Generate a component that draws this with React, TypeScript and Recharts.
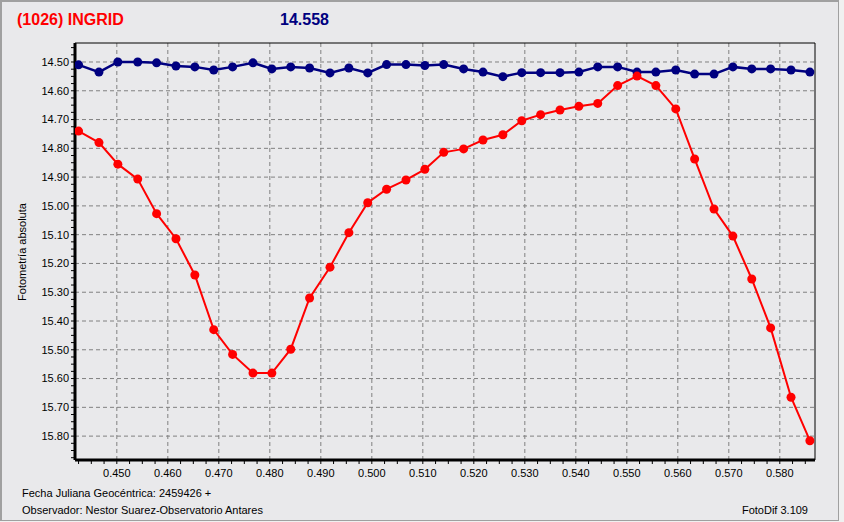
import React from 'react';
import { LineChart, Line, XAxis, YAxis, CartesianGrid, ReferenceArea } from 'recharts';

// Julian date fraction (2459426 +)
const jdFrac = [
    0.4425, 0.4465, 0.4502, 0.4541, 0.4578, 0.4616, 0.4653, 0.4690, 0.4727, 0.4767,
    0.4804, 0.4841, 0.4878, 0.4918, 0.4955, 0.4992, 0.5029, 0.5067, 0.5104, 0.5141,
    0.5180, 0.5218, 0.5257, 0.5294, 0.5331, 0.5369, 0.5406, 0.5443, 0.5482, 0.5520,
    0.5557, 0.5596, 0.5633, 0.5671, 0.5708, 0.5745, 0.5782, 0.5822, 0.5859,
];

// asteroid (red)
const ingridMag = [
    14.740, 14.780, 14.855, 14.907, 15.027, 15.114, 15.240, 15.430, 15.516, 15.581,
    15.581, 15.498, 15.320, 15.213, 15.093, 14.989, 14.942, 14.910, 14.873, 14.814,
    14.802, 14.771, 14.753, 14.704, 14.683, 14.667, 14.654, 14.644, 14.582, 14.549,
    14.582, 14.663, 14.837, 15.011, 15.105, 15.254, 15.424, 15.665, 15.816,
];

// comparison star (blue)
const compMag = [
    14.510, 14.535, 14.500, 14.500, 14.503, 14.514, 14.517, 14.528, 14.517, 14.503,
    14.524, 14.517, 14.521, 14.538, 14.521, 14.538, 14.509, 14.509, 14.512, 14.509,
    14.524, 14.535, 14.551, 14.537, 14.537, 14.537, 14.535, 14.517, 14.517, 14.535,
    14.535, 14.528, 14.542, 14.542, 14.517, 14.524, 14.524, 14.528, 14.535,
];

const xMajor = [0.45, 0.46, 0.47, 0.48, 0.49, 0.5, 0.51, 0.52, 0.53, 0.54, 0.55, 0.56, 0.57, 0.58];
const xMinor = [
    0.4425, 0.445, 0.4475, 0.4525, 0.455, 0.4575, 0.4625, 0.465, 0.4675, 0.4725, 0.475, 0.4775,
    0.4825, 0.485, 0.4875, 0.4925, 0.495, 0.4975, 0.5025, 0.505, 0.5075, 0.5125, 0.515, 0.5175,
    0.5225, 0.525, 0.5275, 0.5325, 0.535, 0.5375, 0.5425, 0.545, 0.5475, 0.5525, 0.555, 0.5575,
    0.5625, 0.565, 0.5675, 0.5725, 0.575, 0.5775, 0.5825, 0.585,
];
const yMajor = [14.5, 14.6, 14.7, 14.8, 14.9, 15.0, 15.1, 15.2, 15.3, 15.4, 15.5, 15.6, 15.7, 15.8];
const yMinor = [
    14.45, 14.475, 14.525, 14.55, 14.575, 14.625, 14.65, 14.675, 14.725, 14.75, 14.775,
    14.825, 14.85, 14.875, 14.925, 14.95, 14.975, 15.025, 15.05, 15.075, 15.125, 15.15, 15.175,
    15.225, 15.25, 15.275, 15.325, 15.35, 15.375, 15.425, 15.45, 15.475, 15.525, 15.55, 15.575,
    15.625, 15.65, 15.675, 15.725, 15.75, 15.775, 15.825, 15.85, 15.875,
];

const X_DOMAIN = [0.4418, 0.5869];
const Y_DOMAIN = [14.434, 15.883];

const data = jdFrac.map((x, i) => ({ x, ingrid: ingridMag[i], comp: compMag[i] }));

const FONT = '"Liberation Sans", Arial, sans-serif';
const BG = '#e9e9eb';

const isMajor = (v: number, list: number[]) => list.some(m => Math.abs(m - v) < 1e-6);

const XTick = (props: any) => {
    const { x, y, payload } = props;
    if (!isMajor(payload.value, xMajor)) return null;
    return (
        <text x={x} y={y} dy="0.71em" textAnchor="middle" fontSize={11} fontFamily={FONT} fill="#000">
            {payload.value.toFixed(3)}
        </text>
    );
};

const YTick = (props: any) => {
    const { x, y, payload } = props;
    if (!isMajor(payload.value, yMajor)) return null;
    return (
        <text x={x} y={y} dy="0.355em" textAnchor="end" fontSize={11} fontFamily={FONT} fill="#000">
            {payload.value.toFixed(2)}
        </text>
    );
};

export default function App() {
    const xTicks = [...xMinor, ...xMajor].sort((a, b) => a - b);
    const yTicks = [...yMinor, ...yMajor].sort((a, b) => a - b);

    return (
        <div style={{ position: 'absolute', left: 0, top: 0, width: 844, height: 522, background: '#f0f0f0', fontFamily: FONT }}>
            <div style={{ position: 'absolute', left: 0, top: 0, width: 836, height: 518, background: BG, border: '1px solid #a0a0a0', borderLeftWidth: 2, borderTopWidth: 2 }} />

            <div style={{ position: 'absolute', left: 17, top: 11, fontSize: 16, fontWeight: 'bold', color: '#ff0000', lineHeight: '18px' }}>
                (1026) INGRID
            </div>
            <div style={{ position: 'absolute', left: 280, top: 11, fontSize: 16, fontWeight: 'bold', color: '#000080', lineHeight: '18px' }}>
                14.558
            </div>

            <div style={{
                position: 'absolute', left: 22, top: 252, fontSize: 11, color: '#000', whiteSpace: 'nowrap',
                transform: 'translate(-50%, -50%) rotate(-90deg)', lineHeight: '12px',
            }}>
                Fotometría absoluta
            </div>

            <div style={{ position: 'absolute', left: 22, top: 487, fontSize: 11, color: '#000', lineHeight: '13px' }}>
                Fecha Juliana Geocéntrica: 2459426 +
            </div>
            <div style={{ position: 'absolute', left: 22, top: 504, fontSize: 11, color: '#000', lineHeight: '13px' }}>
                Observador: Nestor Suarez-Observatorio Antares
            </div>
            <div style={{ position: 'absolute', right: 844 - 808, top: 504, fontSize: 11, color: '#000', lineHeight: '13px' }}>
                FotoDif 3.109
            </div>

            <div style={{ position: 'absolute', left: 0, top: 0 }}>
                <LineChart width={844} height={522} data={data} margin={{ top: 43, right: 29, bottom: 32, left: 25 }}>
                    <CartesianGrid
                        stroke="#808080"
                        strokeDasharray="4 3"
                        verticalValues={xMajor}
                        horizontalValues={yMajor}
                    />
                    <ReferenceArea
                        x1={X_DOMAIN[0]} x2={X_DOMAIN[1]} y1={Y_DOMAIN[0]} y2={Y_DOMAIN[1]}
                        fill="none" stroke="#000" strokeWidth={1} fillOpacity={0}
                        ifOverflow="extendDomain"
                    />
                    <XAxis
                        dataKey="x"
                        type="number"
                        domain={X_DOMAIN}
                        ticks={xTicks}
                        interval={0}
                        height={30}
                        tickSize={4}
                        tickMargin={5}
                        tick={<XTick />}
                        axisLine={{ stroke: '#000', strokeWidth: 3 }}
                        tickLine={{ stroke: '#000' }}
                        allowDataOverflow
                    />
                    <YAxis
                        type="number"
                        reversed
                        domain={Y_DOMAIN}
                        ticks={yTicks}
                        interval={0}
                        width={50}
                        tickSize={4}
                        tickMargin={2}
                        tick={<YTick />}
                        axisLine={{ stroke: '#000', strokeWidth: 3 }}
                        tickLine={{ stroke: '#000' }}
                        allowDataOverflow
                    />
                    <Line
                        type="linear"
                        dataKey="comp"
                        stroke="#000080"
                        strokeWidth={2.5}
                        dot={{ r: 4.5, fill: '#000080', stroke: '#000080', strokeWidth: 0 }}
                        activeDot={false}
                        isAnimationActive={false}
                    />
                    <Line
                        type="linear"
                        dataKey="ingrid"
                        stroke="#ff0000"
                        strokeWidth={2}
                        dot={{ r: 4.5, fill: '#ff0000', stroke: '#ff0000', strokeWidth: 0 }}
                        activeDot={false}
                        isAnimationActive={false}
                    />
                </LineChart>
            </div>
        </div>
    );
}
